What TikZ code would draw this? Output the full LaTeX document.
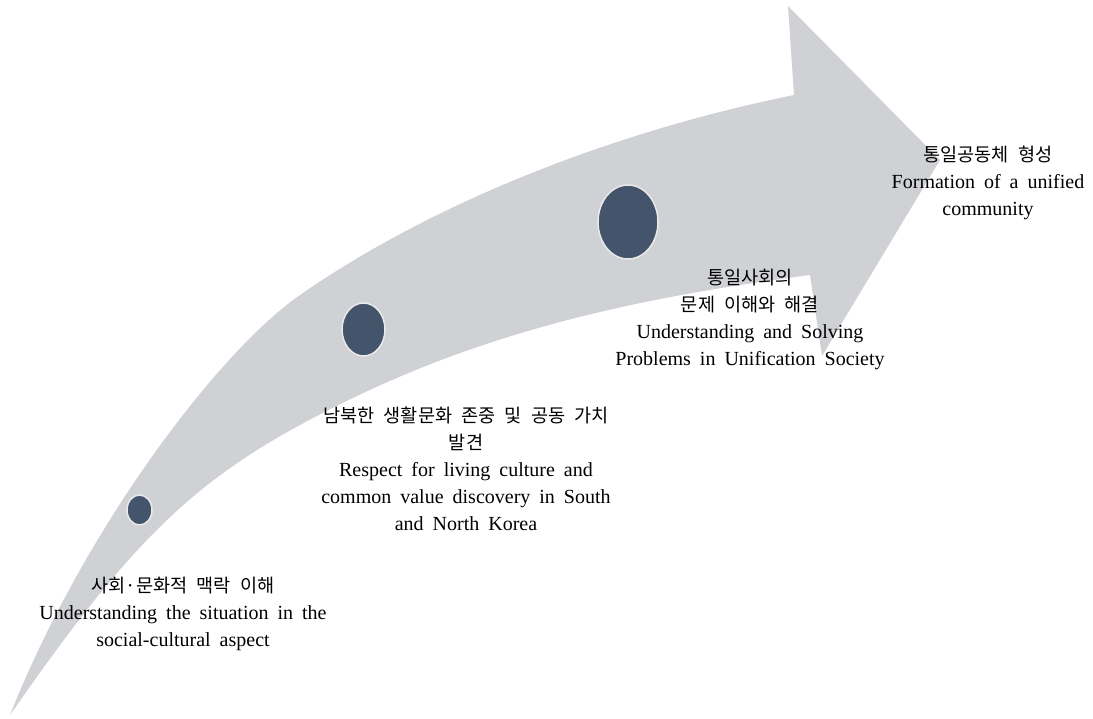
\documentclass[tikz,border=0pt]{standalone}
\usepackage{fontspec}
\setmainfont{Liberation Serif}[WordSpace=1.8]
\newfontfamily\kr{Noto Sans CJK KR}[WordSpace=2.2,Scale=0.93]
\usetikzlibrary{shapes.geometric}
\definecolor{BandGray}{HTML}{CFD1D5}
\definecolor{DotBlue}{HTML}{44546A}
\definecolor{DotRim}{HTML}{E9EAEC}
\tikzset{
  dot/.style={ellipse,fill=DotBlue,draw=DotRim,line width=1.5pt,inner sep=0pt},
  stage/.style={align=center,inner sep=0pt,font=\fontsize{20}{27}\selectfont}
}

\begin{document}
\begin{tikzpicture}[x=1pt,y=-1pt]
  \useasboundingbox (0,0) rectangle (1093,719);
  % curved band with its head
  \fill[BandGray] (10,715) .. controls (84,529) and (218,352) .. (300,295)
    .. controls (423,209.5) and (598,135) .. (794,95)
    -- (788,6) -- (940,160) -- (822,356) -- (810,275)
    .. controls (612,301) and (458,339) .. (300,425)
    .. controls (186,487) and (124,551) .. (10,715) -- cycle;

  \node[dot,minimum width=25pt,minimum height=30pt] (d1) at (139.5,510) {};
  \node[dot,minimum width=43pt,minimum height=53pt] (d2) at (363.5,329.5) {};
  \node[dot,minimum width=60pt,minimum height=74pt] (d3) at (628,222) {};

  \node[stage] (social) at (183,614) {{\kr 사회·문화적 맥락 이해}\\Understanding the situation in the\\social-cultural aspect};
  \node[stage] (respect) at (466,469) {{\kr 남북한 생활문화 존중 및 공동 가치}\\{\kr 발견}\\Respect for living culture and\\common value discovery in South\\and North Korea};
  \node[stage] (solve) at (750,319) {{\kr 통일사회의}\\{\kr 문제 이해와 해결}\\Understanding and Solving\\Problems in Unification Society};
  \node[stage] (unity) at (988,183) {{\kr 통일공동체 형성}\\Formation of a unified\\community};
\end{tikzpicture}
\end{document}
